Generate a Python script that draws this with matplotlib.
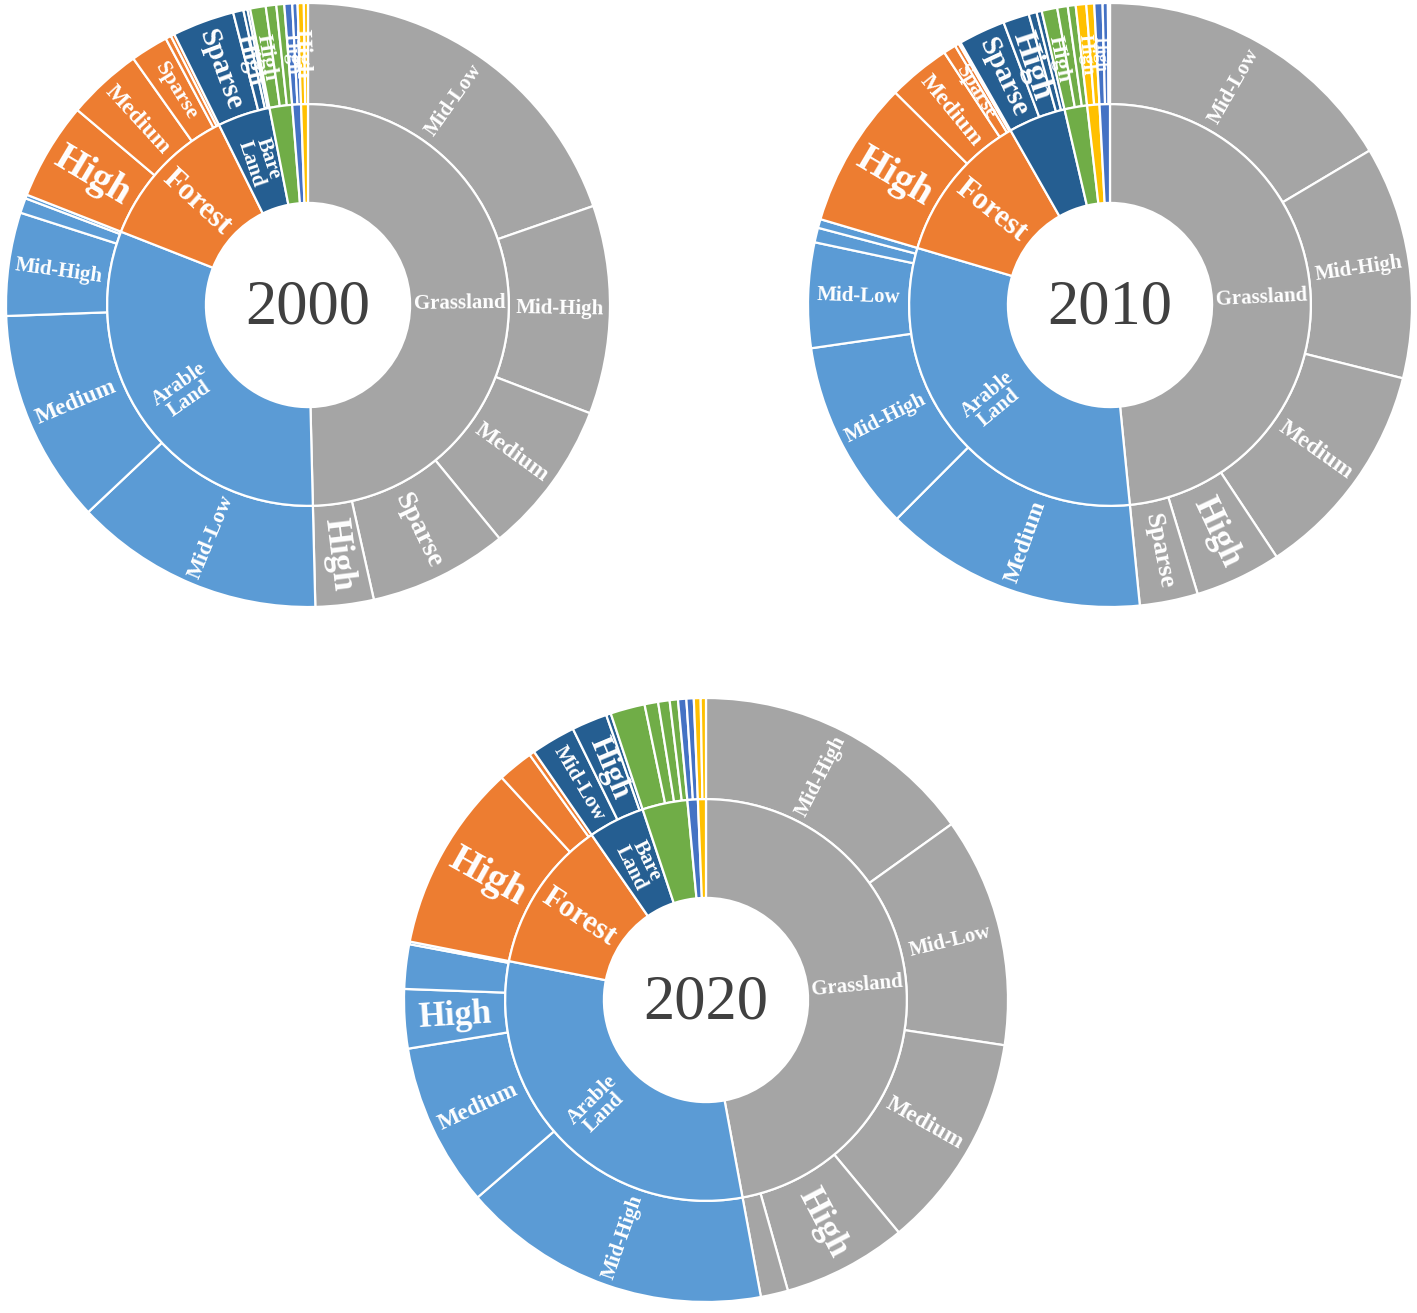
import matplotlib
matplotlib.use("Agg")
import matplotlib.pyplot as plt
import numpy as np

# ---------------- data (shares of total area, %) ----------------
years = ["2000", "2010", "2020"]

# inner-ring categories per year (clockwise order from 12 o'clock)
cats_2000 = ["Grassland", "Arable Land", "Forest", "Bare Land", "Wetland", "Water", "Built-up"]
cats_2010 = ["Grassland", "Arable Land", "Forest", "Bare Land", "Wetland", "Built-up", "Water"]
cats_2020 = ["Grassland", "Arable Land", "Forest", "Bare Land", "Wetland", "Water", "Built-up"]

# outer-ring vegetation-cover levels per category
lev_2000 = {
    "Grassland": ["Mid-Low", "Mid-High", "Medium", "Sparse", "High"],
    "Arable Land": ["Mid-Low", "Medium", "Mid-High", "High", "Sparse"],
    "Forest": ["High", "Medium", "Sparse", "Mid-High", "Mid-Low"],
    "Bare Land": ["Sparse", "High", "Mid-High", "Medium"],
    "Wetland": ["High", "Sparse", "Medium"],
    "Water": ["High", "Sparse"],
    "Built-up": ["High", "Sparse"],
}
val_2000 = {
    "Grassland": [19.6, 11.1, 8.2, 7.4, 3.1],
    "Arable Land": [13.3, 11.4, 5.5, 0.8, 0.2],
    "Forest": [5.2, 4.0, 2.0, 0.3, 0.2],
    "Bare Land": [3.3, 0.55, 0.22, 0.14],
    "Wetland": [0.83, 0.56, 0.42],
    "Water": [0.42, 0.28],
    "Built-up": [0.33, 0.22],
}

lev_2010 = {
    "Grassland": ["Mid-Low", "Mid-High", "Medium", "High", "Sparse"],
    "Arable Land": ["Medium", "Mid-High", "Mid-Low", "High", "Sparse"],
    "Forest": ["High", "Medium", "Sparse", "Mid-High", "Mid-Low"],
    "Bare Land": ["Sparse", "High", "Mid-High", "Medium"],
    "Wetland": ["High", "Sparse", "Medium"],
    "Built-up": ["High", "Sparse"],
    "Water": ["High", "Sparse", "Medium"],
}
val_2010 = {
    "Grassland": [16.4, 12.4, 11.75, 4.6, 3.1],
    "Arable Land": [14.0, 10.2, 5.6, 0.78, 0.47],
    "Forest": [7.8, 3.33, 0.67, 0.22, 0.11],
    "Bare Land": [2.5, 1.39, 0.42, 0.28],
    "Wetland": [0.83, 0.56, 0.42],
    "Built-up": [0.56, 0.42],
    "Water": [0.44, 0.28, 0.11],
}

lev_2020 = {
    "Grassland": ["Mid-High", "Mid-Low", "Medium", "High", "Sparse"],
    "Arable Land": ["Mid-High", "Medium", "High", "Mid-Low", "Sparse"],
    "Forest": ["High", "Medium", "Mid-Low"],
    "Bare Land": ["Mid-Low", "High", "Sparse"],
    "Wetland": ["High", "Mid-High", "Medium", "Mid-Low"],
    "Water": ["High", "Sparse"],
    "Built-up": ["High", "Sparse"],
}
val_2020 = {
    "Grassland": [15.0, 12.2, 11.5, 6.6, 1.45],
    "Arable Land": [16.45, 8.7, 3.14, 2.36, 0.14],
    "Forest": [10.0, 1.89, 0.28],
    "Bare Land": [2.36, 1.89, 0.25],
    "Wetland": [1.83, 0.72, 0.61, 0.44],
    "Water": [0.44, 0.39],
    "Built-up": [0.36, 0.28],
}

# ---------------- styling ----------------
colors = {
    "Grassland": "#A5A5A5",
    "Arable Land": "#5B9BD5",
    "Forest": "#ED7D31",
    "Bare Land": "#255E91",
    "Wetland": "#70AD47",
    "Water": "#4472C4",
    "Built-up": "#FFC000",
}
inner_text = {"Grassland": "Grassland", "Arable Land": "Arable\nLand",
              "Forest": "Forest", "Bare Land": "Bare\nLand"}

# font sizes of the labels that are visible in each chart
inner_fs = {
    "2000": {"Grassland": 15, "Arable Land": 15, "Forest": 22, "Bare Land": 15},
    "2010": {"Grassland": 15, "Arable Land": 15, "Forest": 22},
    "2020": {"Grassland": 15, "Arable Land": 15, "Forest": 22, "Bare Land": 15},
}
outer_fs = {
    "2000": {("Grassland", "Mid-Low"): 15, ("Grassland", "Mid-High"): 15,
             ("Grassland", "Medium"): 17, ("Grassland", "Sparse"): 20,
             ("Grassland", "High"): 25,
             ("Arable Land", "Mid-Low"): 16, ("Arable Land", "Medium"): 17,
             ("Arable Land", "Mid-High"): 15,
             ("Forest", "High"): 28, ("Forest", "Medium"): 17, ("Forest", "Sparse"): 16,
             ("Bare Land", "Sparse"): 21, ("Bare Land", "High"): 18,
             ("Wetland", "High"): 16, ("Water", "High"): 14, ("Built-up", "High"): 17},
    "2010": {("Grassland", "Mid-Low"): 15, ("Grassland", "Mid-High"): 15,
             ("Grassland", "Medium"): 17, ("Grassland", "High"): 25,
             ("Grassland", "Sparse"): 19,
             ("Arable Land", "Medium"): 17, ("Arable Land", "Mid-High"): 15,
             ("Arable Land", "Mid-Low"): 15,
             ("Forest", "High"): 28, ("Forest", "Medium"): 17, ("Forest", "Sparse"): 15,
             ("Bare Land", "Sparse"): 21, ("Bare Land", "High"): 24,
             ("Wetland", "High"): 16, ("Built-up", "High"): 14, ("Water", "High"): 12},
    "2020": {("Grassland", "Mid-High"): 15, ("Grassland", "Mid-Low"): 15,
             ("Grassland", "Medium"): 17, ("Grassland", "High"): 25,
             ("Arable Land", "Mid-High"): 15, ("Arable Land", "Medium"): 17,
             ("Arable Land", "High"): 25,
             ("Forest", "High"): 28,
             ("Bare Land", "Mid-Low"): 15, ("Bare Land", "High"): 22},
}

# chart centres in pixels (x, y from top) and radius
centres = {"2000": (308, 305), "2010": (1110, 305), "2020": (706, 1000)}
R_PX = 302
R_MID = 0.665
R_HOLE = 0.338

FIG_W, FIG_H = 1417, 1313
SERIF = ["Liberation Serif", "DejaVu Serif"]

data = {
    "2000": (cats_2000, lev_2000, val_2000),
    "2010": (cats_2010, lev_2010, val_2010),
    "2020": (cats_2020, lev_2020, val_2020),
}


def place(ax, text, theta, r, size, **kw):
    phi = 90.0 - theta
    x = r * np.cos(np.radians(phi))
    y = r * np.sin(np.radians(phi))
    rot = phi
    while rot <= -90:
        rot += 180
    while rot > 90:
        rot -= 180
    ax.text(x, y, text, rotation=rot, rotation_mode="anchor", ha="center",
            va="center", fontsize=size, color="white", fontweight="bold",
            family=SERIF, linespacing=0.85, **kw)


fig = plt.figure(figsize=(FIG_W / 100, FIG_H / 100), dpi=100)

for yr in years:
    cats, levs, vals = data[yr]
    cx, cy = centres[yr]
    ax = fig.add_axes([(cx - R_PX) / FIG_W, (FIG_H - cy - R_PX) / FIG_H,
                       2 * R_PX / FIG_W, 2 * R_PX / FIG_H])
    inner_vals = [sum(vals[c]) for c in cats]
    outer_vals = [v for c in cats for v in vals[c]]
    outer_cols = [colors[c] for c in cats for _ in vals[c]]
    wp = dict(edgecolor="white", linewidth=1.6)
    ax.pie(outer_vals, radius=1.0, startangle=90, counterclock=False,
           colors=outer_cols, wedgeprops=dict(width=1.0 - R_MID, **wp))
    ax.pie(inner_vals, radius=R_MID, startangle=90, counterclock=False,
           colors=[colors[c] for c in cats],
           wedgeprops=dict(width=R_MID - R_HOLE, **wp))
    ax.set_xlim(-1, 1)
    ax.set_ylim(-1, 1)
    ax.set_aspect("equal")
    ax.axis("off")

    total = sum(inner_vals)
    # inner labels
    start = 0.0
    for c, v in zip(cats, inner_vals):
        ang = v / total * 360
        if c in inner_fs[yr]:
            place(ax, inner_text[c], start + ang / 2, (R_MID + R_HOLE) / 2,
                  inner_fs[yr][c])
        start += ang
    # outer labels
    start = 0.0
    for c in cats:
        for lv, v in zip(levs[c], vals[c]):
            ang = v / total * 360
            key = (c, lv)
            if key in outer_fs[yr]:
                place(ax, lv, start + ang / 2, (1 + R_MID) / 2, outer_fs[yr][key])
            start += ang

    ax.text(0, -0.01, yr, ha="center", va="center", fontsize=45,
            color="#404040", family=SERIF)

fig.savefig("out.png", dpi=100, facecolor="white")
